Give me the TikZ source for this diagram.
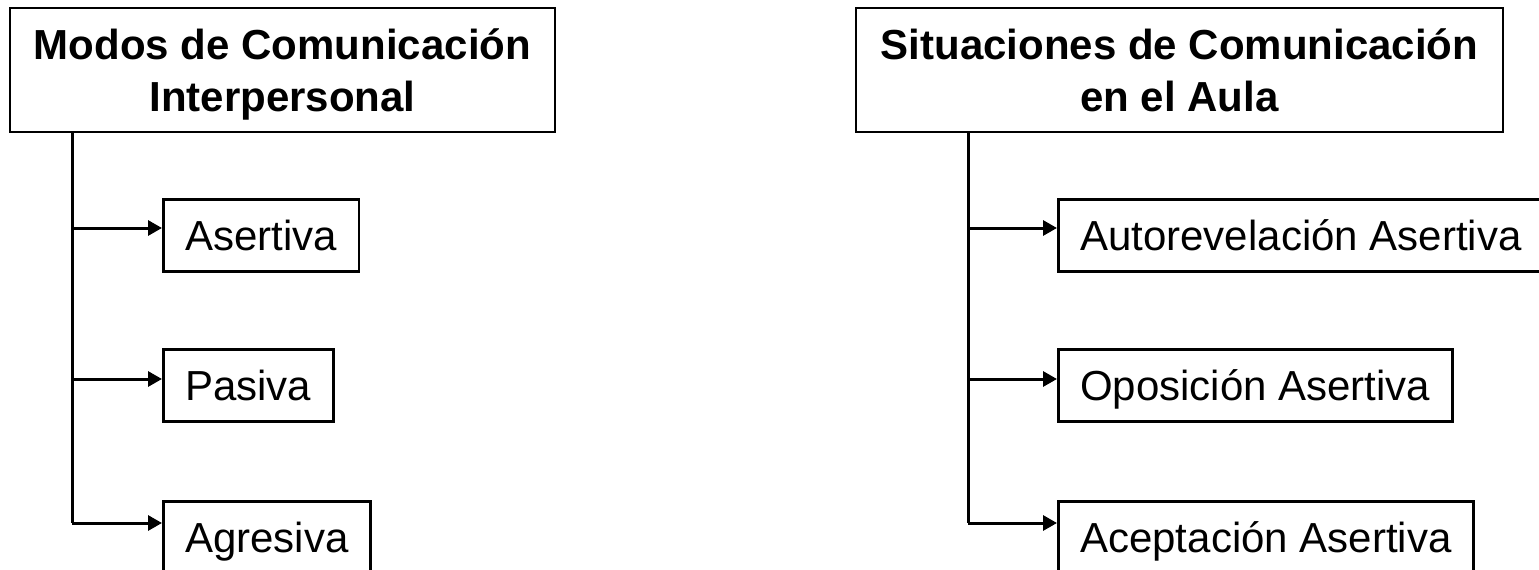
\documentclass[tikz,border=0pt]{standalone}
\usepackage{fontspec}
\setmainfont{Liberation Sans}
\usetikzlibrary{arrows.meta}
\tikzset{
    head/.style={draw,line width=2.5pt,align=center,inner sep=0pt,
        font=\bfseries\fontsize{42}{52}\selectfont,text height=88pt,text depth=6pt},
    leaf/.style={draw,line width=2.5pt,anchor=north west,inner xsep=22pt,inner ysep=15pt,
        font=\fontsize{42}{50}\selectfont,text height=36pt,text depth=6pt},
    trunk/.style={line width=3pt},
    branch/.style={line width=3pt,-{Triangle[length=14pt,width=15pt]}}
}

\begin{document}
\begin{tikzpicture}[x=1pt,y=-1pt]
            \useasboundingbox (0,0) rectangle (1539,570);
            \node[head,minimum width=545pt,minimum height=124pt] (modos) at (282.5,70)
                {Modos de Comunicación\\Interpersonal};
            \node[head,minimum width=647pt,minimum height=124pt] (situ) at (1179.5,70)
                {Situaciones de Comunicación\\en el Aula};
            \node[leaf] (asert) at (162,198) {Asertiva};
            \node[leaf] (pasiva) at (162,348) {Pasiva};
            \node[leaf] (agres) at (162,500) {Agresiva};
            \node[leaf] (autorev) at (1057,198) {Autorevelación Asertiva};
            \node[leaf] (oposic) at (1057,348) {Oposición Asertiva};
            \node[leaf] (acept) at (1057,500) {Aceptación Asertiva};
            \foreach \side/\x in {m/72,s/968} {
                \coordinate (\side1) at (\x,228);
                \coordinate (\side2) at (\x,379);
                \coordinate (\side3) at (\x,523);
            }
            \draw[trunk] (m1 |- modos.south) -- (m3);
            \draw[trunk] (s1 |- situ.south) -- (s3);
            \foreach \j/\leafname in {m1/asert,m2/pasiva,m3/agres,s1/autorev,s2/oposic,s3/acept} {
                \draw[branch] (\j) -- (\j -| \leafname.west);
            }
        \end{tikzpicture}
\end{document}
